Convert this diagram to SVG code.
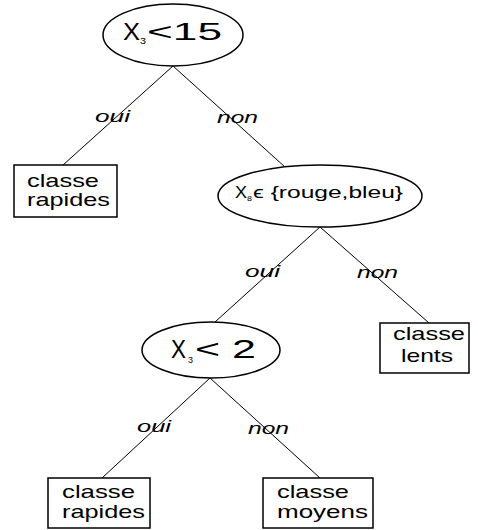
<svg xmlns="http://www.w3.org/2000/svg" width="478" height="530" viewBox="0 0 478 530">
<style>
.n{fill:#fff;stroke:#000;stroke-width:1.5}
.e{stroke:#000;stroke-width:1;fill:none}
.t{font-family:"Liberation Sans",Arial,sans-serif;fill:#000}
.lb{font-family:"Liberation Sans",Arial,sans-serif;font-style:italic;font-size:16px;fill:#000}
.bx{font-size:19px}
</style>
<rect width="478" height="530" fill="#fff"/>
<g id="connectors">
<line class="e" x1="173" y1="66" x2="63" y2="165"/>
<line class="e" x1="173" y1="66" x2="285" y2="167"/>
<line class="e" x1="320" y1="227" x2="215" y2="322"/>
<line class="e" x1="320" y1="227" x2="429" y2="323"/>
<line class="e" x1="210" y1="378" x2="102" y2="478"/>
<line class="e" x1="210" y1="378" x2="320" y2="478"/>
<text class="lb" x="95" y="122" textLength="35" lengthAdjust="spacingAndGlyphs">oui</text>
<text class="lb" x="217" y="123" textLength="41" lengthAdjust="spacingAndGlyphs">non</text>
<text class="lb" x="245" y="277" textLength="35" lengthAdjust="spacingAndGlyphs">oui</text>
<text class="lb" x="357" y="278" textLength="41" lengthAdjust="spacingAndGlyphs">non</text>
<text class="lb" x="137" y="432" textLength="34" lengthAdjust="spacingAndGlyphs">oui</text>
<text class="lb" x="248" y="434" textLength="41" lengthAdjust="spacingAndGlyphs">non</text>
</g>
<g id="root">
<ellipse class="n" cx="173" cy="35" rx="70" ry="31"/>
<text class="t" x="123" y="40" font-size="24" textLength="17" lengthAdjust="spacingAndGlyphs">X</text>
<text class="t" x="140" y="44" font-size="9" textLength="6" lengthAdjust="spacingAndGlyphs">3</text>
<text class="t" x="147" y="40" font-size="24" textLength="75" lengthAdjust="spacingAndGlyphs">&lt;15</text>
</g>
<g id="leaf1">
<rect class="n" x="14" y="165" width="103" height="52"/>
<text class="t bx" x="27" y="187" textLength="72" lengthAdjust="spacingAndGlyphs">classe</text>
<text class="t bx" x="27" y="206" textLength="83" lengthAdjust="spacingAndGlyphs">rapides</text>
</g>
<g id="node2">
<ellipse class="n" cx="320" cy="196" rx="102" ry="31"/>
<text class="t" x="235" y="198" font-size="17" textLength="12" lengthAdjust="spacingAndGlyphs">X</text>
<text class="t" x="247" y="201" font-size="8" textLength="5" lengthAdjust="spacingAndGlyphs">8</text>
<text class="t" x="253" y="198" font-size="17" textLength="150" lengthAdjust="spacingAndGlyphs">ϵ {rouge,bleu}</text>
</g>
<g id="leaf2">
<rect class="n" x="380" y="323" width="89" height="50"/>
<text class="t bx" x="393" y="340" textLength="72" lengthAdjust="spacingAndGlyphs">classe</text>
<text class="t bx" x="401" y="362" textLength="52" lengthAdjust="spacingAndGlyphs">lents</text>
</g>
<g id="node3">
<ellipse class="n" cx="211" cy="350" rx="69" ry="28"/>
<text class="t" x="171" y="358" font-size="25" textLength="15" lengthAdjust="spacingAndGlyphs">X</text>
<text class="t" x="188" y="363" font-size="9" textLength="5" lengthAdjust="spacingAndGlyphs">3</text>
<text class="t" x="195" y="358" font-size="25" textLength="61" lengthAdjust="spacingAndGlyphs">&lt; 2</text>
</g>
<g id="leaf3">
<rect class="n" x="48" y="478" width="102" height="50"/>
<text class="t bx" x="62" y="498" textLength="73" lengthAdjust="spacingAndGlyphs">classe</text>
<text class="t bx" x="62" y="518" textLength="83" lengthAdjust="spacingAndGlyphs">rapides</text>
</g>
<g id="leaf4">
<rect class="n" x="263" y="478" width="110" height="50"/>
<text class="t bx" x="277" y="498" textLength="72" lengthAdjust="spacingAndGlyphs">classe</text>
<text class="t bx" x="277" y="518" textLength="91" lengthAdjust="spacingAndGlyphs">moyens</text>
</g>
</svg>
